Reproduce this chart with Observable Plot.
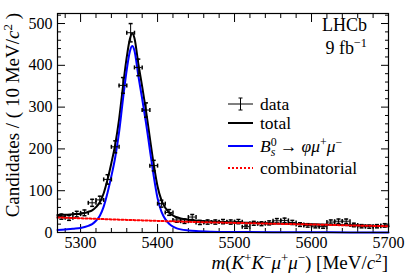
<!DOCTYPE html>
<html><head><meta charset="utf-8">
<script src="https://cdn.jsdelivr.net/npm/d3@7"></script>
<script src="https://cdn.jsdelivr.net/npm/@observablehq/plot@0.6"></script>
<style>body{margin:0;background:#fff;} svg{display:block}</style>
</head><body><div id="chart"></div>
<script>
// ---- data ----
const binCenters = [5275,5285,5295,5305,5315,5325,5335,5345,5355,5365,5375,5385,5395,5405,5415,5425,5435,5445,5455,5465,5475,5485,5495,5505,5515,5525,5535,5545,5555,5565,5575,5585,5595,5605,5615,5625,5635,5645,5655,5665,5675,5685,5695];
const counts = [38,35,44,47,71,78,127,205,352,478,395,293,160,69,48,30,27,37,24,25,25,26,25,26,14,22,21,23,28,29,24,19,17,15,14,25,27,27,18,15,14,15,17];

const curveMass = [5270,5280,5290,5300,5310,5315,5320,5325,5330,5335,5340,5345,5350,5355,5360,5364,5367,5370,5375,5380,5385,5390,5395,5400,5405,5410,5415,5420,5425,5430,5440,5450,5470,5500,5550,5600,5650,5700];
const totalFit = [42,42.3,43.7,45,49.4,53,60.7,72.4,94,126.7,166.4,211,270.8,348.5,420,463,476,465,404,349,291,226,163,110,77.5,59,48,40.7,36.4,33.6,30.6,28.6,26.2,24.2,21.7,19.6,17.3,15.2];
const signalFit = [6,7,9,11,16,20,28,40,62,95,135,180,240,318,390,433,446,435,375,320,262,198,135,82,50,32,21,14,10,7.5,5,3.5,2,1.2,0.7,0.4,0.3,0.2];
const combFit = [36,35.3,34.7,34,33.4,33,32.7,32.4,32,31.7,31.4,31.1,30.8,30.5,30.2,30,29.8,29.6,29.3,29,28.7,28.4,28.1,27.8,27.5,27.2,27,26.7,26.4,26.1,25.6,25.1,24.2,23,21,19.2,17,15];

const xTicks = [5300,5400,5500,5600,5700];
const yTicks = [0,100,200,300,400,500];
const binHalfWidth = 5;

// ---- build tables ----
const pts = binCenters.map((m,i)=>({m, n:counts[i], e:Math.sqrt(counts[i])}));
const curves = curveMass.map((m,i)=>({m, total:totalFit[i], signal:signalFit[i], comb:combFit[i]}));
const xMinor = d3.range(5280, 5701, 20).filter(v => v % 100 !== 0);
const yMinor = d3.range(20, 524, 20).filter(v => v % 100 !== 0);

const capH = {draw(ctx){ctx.moveTo(-2,0);ctx.lineTo(2,0);}};
const capV = {draw(ctx){ctx.moveTo(0,-2);ctx.lineTo(0,2);}};
const noText = () => "";
const plain = d => String(d);

const chart = Plot.plot({
  width:409, height:277, marginLeft:57, marginRight:21, marginTop:13, marginBottom:45,
  style:{fontFamily:"Liberation Serif", fontSize:"16px", color:"black", background:"white"},
  x:{domain:[5270,5700]},
  y:{domain:[0,524]},
  marks:[
    Plot.axisX(xTicks,{anchor:"bottom", tickSize:0, tickPadding:4, fontSize:16, tickFormat:plain, label:null}),
    Plot.axisX(xTicks,{anchor:"bottom", tickSize:-8, tickFormat:noText, label:null}),
    Plot.axisX(xMinor,{anchor:"bottom", tickSize:-4, tickFormat:noText, label:null}),
    Plot.axisX(xTicks,{anchor:"top", tickSize:-8, tickFormat:noText, label:null}),
    Plot.axisX(xMinor,{anchor:"top", tickSize:-4, tickFormat:noText, label:null}),
    Plot.axisY(yTicks,{anchor:"left", tickSize:0, tickPadding:5, fontSize:16, tickFormat:plain, label:null}),
    Plot.axisY(yTicks,{anchor:"left", tickSize:-8, tickFormat:noText, label:null}),
    Plot.axisY(yMinor,{anchor:"left", tickSize:-4, tickFormat:noText, label:null}),
    Plot.axisY(yTicks,{anchor:"right", tickSize:-8, tickFormat:noText, label:null}),
    Plot.axisY(yMinor,{anchor:"right", tickSize:-4, tickFormat:noText, label:null}),
    Plot.line(curves,{x:"m", y:"total", stroke:"black", strokeWidth:2, curve:"monotone-x"}),
    Plot.line(curves,{x:"m", y:"signal", stroke:"#0000ff", strokeWidth:2, curve:"monotone-x"}),
    Plot.ruleX(pts,{x:"m", y1:d=>d.n-d.e, y2:d=>d.n+d.e, stroke:"black", strokeWidth:1}),
    Plot.ruleY(pts,{y:"n", x1:d=>d.m-binHalfWidth, x2:d=>d.m+binHalfWidth, stroke:"black", strokeWidth:1}),
    Plot.dot(pts,{x:"m", y:d=>d.n+d.e, symbol:capH, stroke:"black", fill:"none", r:2}),
    Plot.dot(pts,{x:"m", y:d=>d.n-d.e, symbol:capH, stroke:"black", fill:"none", r:2}),
    Plot.dot(pts,{x:d=>d.m-binHalfWidth, y:"n", symbol:capV, stroke:"black", fill:"none", r:2}),
    Plot.dot(pts,{x:d=>d.m+binHalfWidth, y:"n", symbol:capV, stroke:"black", fill:"none", r:2}),
    Plot.line(curves,{x:"m", y:"comb", stroke:"#ff0000", strokeWidth:2, strokeDasharray:"2,2", curve:"monotone-x"}),
    Plot.frame({stroke:"black", strokeWidth:1.2})
  ]
});
document.getElementById("chart").appendChild(chart);

// remove empty tick-label texts from tick-only axes
const svg = d3.select(chart);
svg.selectAll("text").filter(function(){ return this.textContent.trim() === ""; }).remove();

// ---- text annotations ----
function rich(x, y, parts, size, anchor="start", transform=null, supK=0.38, subK=0.25){
  const t = svg.append("text").attr("x",x).attr("y",y).attr("font-size",size)
    .attr("text-anchor",anchor).attr("fill","black").attr("font-family","Liberation Serif");
  if(transform) t.attr("transform",transform);
  let off = 0;
  for(const p of parts){
    const ts = t.append("tspan").text(p.t);
    const target = p.sup ? -supK*size : p.sub ? subK*size : 0;
    if(target !== off) ts.attr("dy", target-off);
    off = target;
    if(p.sup || p.sub) ts.attr("font-size", size*0.68);
    if(p.i) ts.attr("font-style","italic");
    if(p.dx) ts.attr("dx", p.dx);
  }
  return t;
}
// y title
rich(0,0,[{t:"Candidates / ( 10 MeV/"},{t:"c",i:1},{t:"2",sup:1},{t:" )"}],19,"end","translate(19,13) rotate(-90)");
// x title
rich(388,269,[{t:"m",i:1},{t:"("},{t:"K",i:1},{t:"+",sup:1},{t:"K",i:1},{t:"−",sup:1},{t:"μ",i:1},{t:"+",sup:1},{t:"μ",i:1},{t:"−",sup:1},{t:") [MeV/"},{t:"c",i:1},{t:"2",sup:1},{t:"]"}],19,"end");
// LHCb
rich(367,31,[{t:"LHCb"}],18,"end");
rich(367,54,[{t:"9 fb"},{t:"−1",sup:1}],18,"end");
// legend
const lx1=228, lx2=253, tx=260, lfs=17.5;
const rows=[110,129,152,174];
const g = svg.append("g");
g.append("line").attr("x1",lx1).attr("x2",lx2).attr("y1",rows[0]-6).attr("y2",rows[0]-6).attr("stroke","black");
g.append("line").attr("x1",(lx1+lx2)/2).attr("x2",(lx1+lx2)/2).attr("y1",rows[0]-12).attr("y2",rows[0]).attr("stroke","black");
g.append("line").attr("x1",(lx1+lx2)/2-2).attr("x2",(lx1+lx2)/2+2).attr("y1",rows[0]-12).attr("y2",rows[0]-12).attr("stroke","black");
g.append("line").attr("x1",(lx1+lx2)/2-2).attr("x2",(lx1+lx2)/2+2).attr("y1",rows[0]).attr("y2",rows[0]).attr("stroke","black");
g.append("line").attr("x1",lx1).attr("x2",lx2).attr("y1",rows[1]-6).attr("y2",rows[1]-6).attr("stroke","black").attr("stroke-width",2);
g.append("line").attr("x1",lx1).attr("x2",lx2).attr("y1",rows[2]-6).attr("y2",rows[2]-6).attr("stroke","#0000ff").attr("stroke-width",2);
g.append("line").attr("x1",lx1).attr("x2",lx2).attr("y1",rows[3]-6).attr("y2",rows[3]-6).attr("stroke","#ff0000").attr("stroke-width",2).attr("stroke-dasharray","2,2");
rich(tx,rows[0],[{t:"data"}],lfs);
rich(tx,rows[1],[{t:"total"}],lfs);
rich(tx,rows[2],[{t:"B",i:1},{t:"0",sup:1},{t:"s",sub:1,i:1,dx:-6},{t:" → "},{t:"φμ",i:1},{t:"+",sup:1},{t:"μ",i:1},{t:"−",sup:1}],lfs,"start",null,0.33,0.2);
rich(tx,rows[3],[{t:"combinatorial"}],lfs);
</script>
</body></html>
